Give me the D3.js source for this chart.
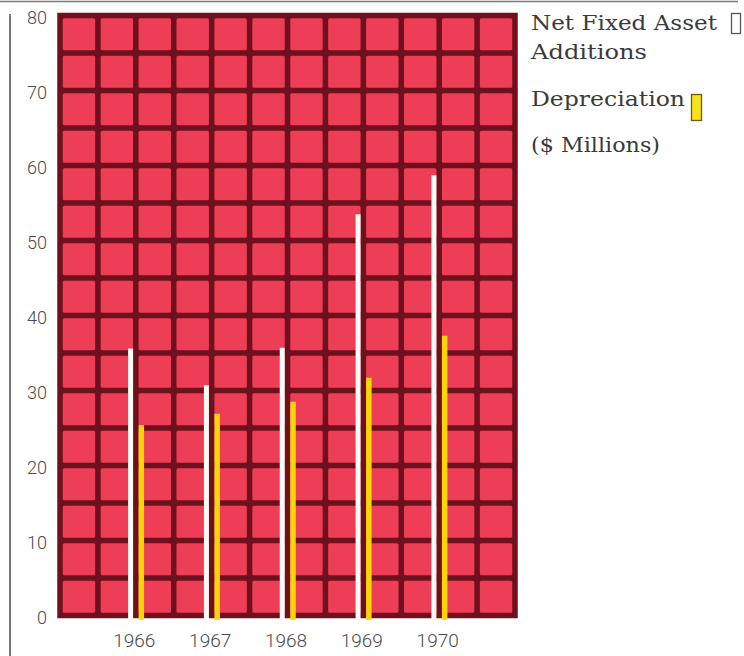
<!DOCTYPE html>
<html>
<head>
<meta charset="utf-8">
<script src="https://cdn.jsdelivr.net/npm/d3@7/dist/d3.min.js"></script>
<style>
  html, body { margin: 0; padding: 0; background: #ffffff; }
  svg { display: block; }
  .tick text { font-family: Roboto, Lato, "DejaVu Sans", sans-serif; font-weight: 300; fill: #4a4a4a; }
  .legend text { font-family: "DejaVu Serif", serif; fill: #3a3a3a; }
</style>
</head>
<body>
<svg id="chart" width="744" height="656"></svg>
<script>
// Capital spending vs. depreciation, $ millions
const years = ["1966", "1967", "1968", "1969", "1970"];
const netFixedAssetAdditions = [35.6, 30.7, 35.7, 53.5, 58.7];
const depreciation = [25.4, 26.9, 28.5, 31.7, 37.3];
const yTickValues = [0, 10, 20, 30, 40, 50, 60, 70, 80];

const svg = d3.select("#chart");

const cellRed = "#ee3d57";
const lineRed = "#6f101d";
const lineW = 5.5;

// value scale and the 12-column grid the panel is built on
const y = d3.scaleLinear().domain([0, 80]).range([615.5, 15.5]);
const xGrid = d3.scaleLinear().domain([0, 12]).range([60, 515]);
const xYear = d3.scalePoint().domain(years).range([xGrid(2), xGrid(10)]);

// thin rule across the top and the left rule
svg.append("line")
  .attr("x1", 0).attr("x2", 738).attr("y1", 1.5).attr("y2", 1.5)
  .attr("stroke", "#7a7a7a").attr("stroke-width", 1.6);
svg.append("line")
  .attr("x1", 10).attr("x2", 10).attr("y1", 14).attr("y2", 656)
  .attr("stroke", "#555").attr("stroke-width", 1.6);

// grid panel: dark backing with red cells every 5 units / 1 column
const panel = svg.append("g");
panel.append("rect")
  .attr("x", xGrid(0) - lineW / 2)
  .attr("y", y(80) - lineW / 2)
  .attr("width", xGrid(12) - xGrid(0) + lineW)
  .attr("height", y(0) - y(80) + lineW)
  .attr("fill", lineRed);

const cols = d3.range(12);
const rows = d3.range(0, 80, 5);
const cells = [];
cols.forEach(c => rows.forEach(r => cells.push({ c, r })));
panel.selectAll("rect.cell")
  .data(cells)
  .join("rect")
  .attr("class", "cell")
  .attr("x", d => xGrid(d.c) + lineW / 2)
  .attr("y", d => y(d.r + 5) + lineW / 2)
  .attr("width", d => xGrid(d.c + 1) - xGrid(d.c) - lineW)
  .attr("height", d => y(d.r) - y(d.r + 5) - lineW)
  .attr("rx", 1.5)
  .attr("fill", cellRed);

// bars: white stripe left of a grid line, yellow stripe right of it
const barW = 5;
const base = y(0) + lineW / 2 + 1.5;
svg.append("g").selectAll("rect")
  .data(years)
  .join("rect")
  .attr("x", (d) => xYear(d) - lineW / 2 - barW)
  .attr("y", (d, i) => y(netFixedAssetAdditions[i]))
  .attr("width", barW)
  .attr("height", (d, i) => base - y(netFixedAssetAdditions[i]))
  .attr("fill", "#fbfaf4");

svg.append("g").selectAll("rect")
  .data(years)
  .join("rect")
  .attr("x", (d) => xYear(d) + lineW / 2)
  .attr("y", (d, i) => y(depreciation[i]))
  .attr("width", barW + 0.5)
  .attr("height", (d, i) => base - y(depreciation[i]))
  .attr("fill", "#f8d40c");

// axes (labels only)
const yAxis = d3.axisLeft(y).tickValues(yTickValues).tickSize(0).tickPadding(0);
svg.append("g")
  .attr("transform", "translate(47,2)")
  .call(yAxis)
  .call(g => g.select(".domain").remove())
  .call(g => g.selectAll("text").style("font-size", "18px"));

const xAxis = d3.axisBottom(xYear).tickSize(0).tickPadding(0);
svg.append("g")
  .attr("transform", "translate(-2,633)")
  .call(xAxis)
  .call(g => g.select(".domain").remove())
  .call(g => g.selectAll("text").style("font-size", "19px"));

// legend
const legend = svg.append("g").attr("class", "legend");
const legendFont = 21;
const legendLines = [
  { text: "Net Fixed Asset", y: 30, w: 186 },
  { text: "Additions", y: 59, w: 116 },
  { text: "Depreciation", y: 106, w: 154 },
  { text: "($ Millions)", y: 152, w: 129 }
];
legend.selectAll("text")
  .data(legendLines)
  .join("text")
  .attr("x", 531)
  .attr("y", d => d.y)
  .attr("textLength", d => d.w)
  .attr("lengthAdjust", "spacingAndGlyphs")
  .style("font-size", legendFont + "px")
  .text(d => d.text);
legend.append("rect")
  .attr("x", 731.5).attr("y", 13.5).attr("width", 9).attr("height", 20)
  .attr("fill", "#ffffff").attr("stroke", "#555").attr("stroke-width", 1.3);
legend.append("rect")
  .attr("x", 691.5).attr("y", 94.5).attr("width", 10).attr("height", 26)
  .attr("fill", "#f8e31a").attr("stroke", "#6b5a10").attr("stroke-width", 1.3);
</script>
</body>
</html>
